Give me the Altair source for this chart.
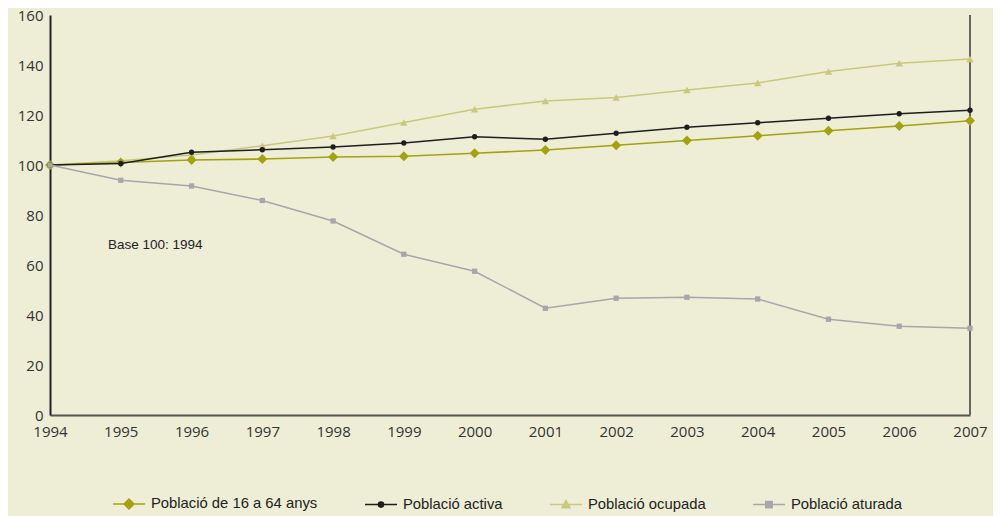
import altair as alt
import pandas as pd

years = list(range(1994, 2008))
series_names = ["Població de 16 a 64 anys", "Població activa", "Població ocupada", "Població aturada"]
pob_16_64 = [100, 101.0, 102.0, 102.4, 103.2, 103.5, 104.7, 106.0, 107.9, 109.8, 111.7, 113.7, 115.6, 117.7]
pob_activa = [100, 100.6, 105.1, 106.1, 107.2, 108.8, 111.3, 110.3, 112.7, 115.1, 116.9, 118.7, 120.5, 121.9]
pob_ocupada = [100, 101.7, 104.0, 107.7, 111.6, 117.0, 122.3, 125.6, 127.0, 130.0, 132.8, 137.4, 140.7, 142.4]
pob_aturada = [100, 93.9, 91.6, 85.8, 77.6, 64.3, 57.5, 42.7, 46.7, 47.1, 46.4, 38.3, 35.5, 34.7]
y_ticks = [0, 20, 40, 60, 80, 100, 120, 140, 160]

colors = ["#A3A30F", "#1E1E1E", "#C9C97E", "#A6A6AB"]
point_shapes = ["diamond", "circle", "triangle-up", "square"]
point_sizes = [100, 28, 55, 28]
line_widths = [1.6, 1.6, 1.5, 1.5]
legend_paths = [
    "M-1,0L1,0M0,-0.31L0.31,0L0,0.31L-0.31,0Z",
    "M-1,0L1,0M0.16,0A0.16,0.16,0,1,1,-0.16,0A0.16,0.16,0,1,1,0.16,0Z",
    "M-1,0L1,0M0,-0.25L0.25,0.2L-0.25,0.2Z",
    "M-1,0L1,0M-0.2,-0.2L0.2,-0.2L0.2,0.2L-0.2,0.2Z",
]

rows = []
for name, vals in zip(series_names, [pob_16_64, pob_activa, pob_ocupada, pob_aturada]):
    for yr, v in zip(years, vals):
        rows.append({"any": yr, "valor": v, "serie": name})
df = pd.DataFrame(rows)

note_df = pd.DataFrame({"any": [1994.82], "valor": [68], "text": ["Base 100: 1994"]})

x_enc = alt.X(
    "any:Q",
    scale=alt.Scale(domain=[1994, 2007], nice=False, zero=False),
    axis=alt.Axis(values=years, format="d", title=None, grid=False, ticks=False,
                  domainColor="#55554D", domainWidth=2, labelFont="Open Sans",
                  labelFontSize=15, labelColor="#333333", labelPadding=9,
                  labelFlush=False, labelOverlap=False),
)
y_enc = alt.Y(
    "valor:Q",
    scale=alt.Scale(domain=[0, 160], nice=False),
    axis=alt.Axis(values=y_ticks, title=None, grid=False, ticks=False,
                  domainColor="#222222", domainWidth=2, labelFont="Open Sans",
                  labelFontSize=15, labelColor="#333333", labelPadding=7),
)

base = alt.Chart(df)
draw_order = [2, 0, 1, 3]
layers = []
for i in draw_order:
    sub = base.transform_filter(alt.datum.serie == series_names[i])
    layers.append(sub.mark_line(color=colors[i], strokeWidth=line_widths[i]).encode(x=x_enc, y=y_enc))
    layers.append(sub.mark_point(filled=True, opacity=1, color=colors[i], shape=point_shapes[i],
                                 size=point_sizes[i]).encode(x=x_enc, y=y_enc))

right_line = alt.Chart(df).mark_rule(color="#66665E", strokeWidth=2).encode(
    x=alt.datum(2007), y=alt.datum(0), y2=alt.datum(160))

note = alt.Chart(note_df).mark_text(align="left", baseline="middle", font="Liberation Sans",
                                    fontSize=13.5, color="#222222").encode(
    x="any:Q", y="valor:Q", text="text:N")

legend = alt.Legend(title=None, orient="none", legendX=62, legendY=472, direction="horizontal",
                    columnPadding=44, labelFont="Liberation Sans", labelFontSize=14.8,
                    labelColor="#222222", labelOffset=5, labelLimit=400, symbolSize=1024,
                    symbolStrokeWidth=1.5, padding=0)
legend_layer = base.transform_filter("false").mark_point(opacity=1, size=1024, strokeWidth=1.5).encode(
    x=x_enc, y=y_enc,
    stroke=alt.Stroke("serie:N", scale=alt.Scale(domain=series_names, range=colors), legend=legend),
    fill=alt.Fill("serie:N", scale=alt.Scale(domain=series_names, range=colors), legend=legend),
    shape=alt.Shape("serie:N", scale=alt.Scale(domain=series_names, range=legend_paths), legend=legend),
)

chart = alt.layer(right_line, *layers, note, legend_layer).properties(
    width=920, height=400,
    autosize=alt.AutoSizeParams(type="none"),
    padding={"left": 42, "top": 7, "right": 23, "bottom": 101},
    background="#EEEED6",
).configure_view(stroke=None)

chart.save("out.html", embed_options={"renderer": "svg", "actions": False})
